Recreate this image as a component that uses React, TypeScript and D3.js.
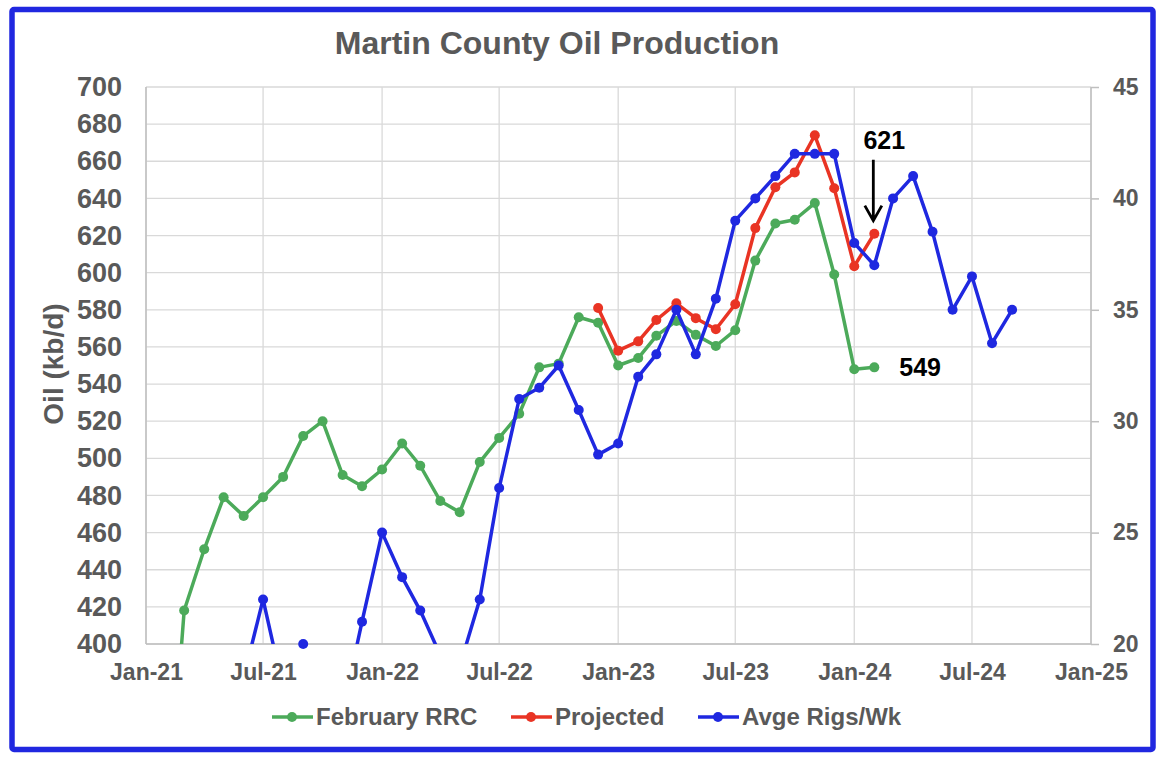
import React, { useEffect, useRef } from "react";
import * as d3 from "d3";

// February RRC production, kb/d
const rrcMonths = [
  "2021-02", "2021-03", "2021-04", "2021-05", "2021-06", "2021-07", "2021-08", "2021-09", "2021-10", "2021-11", "2021-12",
  "2022-01", "2022-02", "2022-03", "2022-04", "2022-05", "2022-06", "2022-07", "2022-08", "2022-09", "2022-10", "2022-11", "2022-12",
  "2023-01", "2023-02", "2023-03", "2023-04", "2023-05", "2023-06", "2023-07", "2023-08", "2023-09", "2023-10", "2023-11", "2023-12",
  "2024-01", "2024-02",
];
const rrcValues = [
  290, 418, 451, 479, 469, 479, 490, 512, 520, 491, 485,
  494, 508, 496, 477, 471, 498, 511, 524, 549, 551, 576, 573,
  550, 554, 566, 574, 566.5, 560.5, 569, 606.5, 626.5, 628.5, 637.5, 599,
  548, 549,
];

// Projected production, kb/d
const projMonths = [
  "2022-12", "2023-01", "2023-02", "2023-03", "2023-04", "2023-05", "2023-06", "2023-07",
  "2023-08", "2023-09", "2023-10", "2023-11", "2023-12", "2024-01", "2024-02",
];
const projValues = [581, 558, 563, 574.5, 583.5, 575.5, 569.5, 583, 624, 646, 654, 674, 645.5, 603.5, 621];

// Average rigs per week (right axis)
const rigMonths = [
  "2021-06", "2021-07", "2021-08", "2021-09", "2021-10", "2021-11", "2021-12",
  "2022-01", "2022-02", "2022-03", "2022-04", "2022-05", "2022-06", "2022-07", "2022-08", "2022-09", "2022-10", "2022-11", "2022-12",
  "2023-01", "2023-02", "2023-03", "2023-04", "2023-05", "2023-06", "2023-07", "2023-08", "2023-09", "2023-10", "2023-11", "2023-12",
  "2024-01", "2024-02", "2024-03", "2024-04", "2024-05", "2024-06", "2024-07", "2024-08", "2024-09",
];
const rigValues = [
  18.5, 22, 18, 20, 18, 17, 21,
  25, 23, 21.5, 19.5, 19, 22, 27, 31, 31.5, 32.5, 30.5, 28.5,
  29, 32, 33, 35, 33, 35.5, 39, 40, 41, 42, 42, 42,
  38, 37, 40, 41, 38.5, 35, 36.5, 33.5, 35,
];

const leftTicks = [400, 420, 440, 460, 480, 500, 520, 540, 560, 580, 600, 620, 640, 660, 680, 700];
const rightTicks = [20, 25, 30, 35, 40, 45];
const xTickLabels = ["Jan-21", "Jul-21", "Jan-22", "Jul-22", "Jan-23", "Jul-23", "Jan-24", "Jul-24", "Jan-25"];

const seriesNames = ["February RRC", "Projected", "Avge Rigs/Wk"];
const colors = ["#4caa5a", "#e93424", "#1f28e0"];

const FONT = "'Liberation Sans', Arial, Helvetica, sans-serif";
const GREY = "#595959";

const App: React.FC = () => {
  const svgRef = useRef<SVGSVGElement | null>(null);

  useEffect(() => {
    if (!svgRef.current) return;
    const svg = d3.select(svgRef.current);
    svg.selectAll("*").remove();

    const width = 1172;
    const height = 766;
    const left = 146;
    const right = 1091;
    const top = 87;
    const bottom = 644;

    svg.attr("width", width).attr("height", height);

    const parse = d3.timeParse("%Y-%m");
    const fmt = d3.timeFormat("%b-%y");

    const x = d3
      .scaleTime()
      .domain([new Date(2021, 0, 1), new Date(2025, 0, 1)])
      .range([left, right]);
    const yL = d3.scaleLinear().domain([400, 700]).range([bottom, top]);
    const yR = d3.scaleLinear().domain([20, 45]).range([bottom, top]);

    // outer frame
    svg
      .append("rect")
      .attr("x", 12)
      .attr("y", 9.5)
      .attr("width", 1141)
      .attr("height", 740)
      .attr("rx", 2)
      .attr("fill", "#fff")
      .attr("stroke", "#2027e0")
      .attr("stroke-width", 5.5);

    // title
    svg
      .append("text")
      .attr("x", 557)
      .attr("y", 54)
      .attr("text-anchor", "middle")
      .attr("font-family", FONT)
      .attr("font-weight", "bold")
      .attr("font-size", 32)
      .attr("fill", GREY)
      .text("Martin County Oil Production");

    // grid
    const xTicks = xTickLabels.map((s) => d3.timeParse("%b-%y")(s)!);
    svg
      .append("g")
      .selectAll("line")
      .data(leftTicks)
      .enter()
      .append("line")
      .attr("x1", left)
      .attr("x2", right)
      .attr("y1", (d) => yL(d))
      .attr("y2", (d) => yL(d))
      .attr("stroke", "#d9d9d9")
      .attr("stroke-width", 1.3);
    svg
      .append("g")
      .selectAll("line")
      .data(xTicks)
      .enter()
      .append("line")
      .attr("x1", (d) => x(d))
      .attr("x2", (d) => x(d))
      .attr("y1", top)
      .attr("y2", bottom)
      .attr("stroke", "#d9d9d9")
      .attr("stroke-width", 1.3);

    // axes lines
    svg.append("line").attr("x1", left).attr("x2", left).attr("y1", top).attr("y2", bottom).attr("stroke", "#bfbfbf").attr("stroke-width", 1.5);
    svg.append("line").attr("x1", right).attr("x2", right).attr("y1", top).attr("y2", bottom).attr("stroke", "#bfbfbf").attr("stroke-width", 1.5);
    svg.append("line").attr("x1", left).attr("x2", right).attr("y1", bottom).attr("y2", bottom).attr("stroke", "#bfbfbf").attr("stroke-width", 1.5);

    // left axis labels
    const gL = svg
      .append("g")
      .attr("transform", `translate(${left},0)`)
      .call(d3.axisLeft(yL).tickValues(leftTicks).tickSize(0).tickPadding(24).tickFormat(d3.format("d")));
    gL.select(".domain").remove();
    gL.selectAll("text")
      .attr("font-family", FONT)
      .attr("font-weight", "bold")
      .attr("font-size", 27)
      .attr("fill", GREY);

    // right axis labels
    const gR = svg
      .append("g")
      .attr("transform", `translate(${right},0)`)
      .call(d3.axisRight(yR).tickValues(rightTicks).tickSize(8).tickPadding(14).tickFormat(d3.format("d")));
    gR.select(".domain").remove();
    gR.selectAll("line").attr("stroke", "#bfbfbf").attr("stroke-width", 1.5);
    gR.selectAll("text")
      .attr("font-family", FONT)
      .attr("font-weight", "bold")
      .attr("font-size", 23)
      .attr("fill", GREY);

    // bottom axis labels
    const gB = svg
      .append("g")
      .attr("transform", `translate(0,${bottom})`)
      .call(d3.axisBottom(x).tickValues(xTicks).tickSize(0).tickPadding(20).tickFormat((d) => fmt(d as Date)));
    gB.select(".domain").remove();
    gB.selectAll("text")
      .attr("font-family", FONT)
      .attr("font-weight", "bold")
      .attr("font-size", 23)
      .attr("fill", GREY);

    // y axis title
    svg
      .append("text")
      .attr("transform", "translate(63,364) rotate(-90)")
      .attr("text-anchor", "middle")
      .attr("font-family", FONT)
      .attr("font-weight", "bold")
      .attr("font-size", 28)
      .attr("fill", GREY)
      .text("Oil (kb/d)");

    // clip
    svg
      .append("clipPath")
      .attr("id", "plot-clip")
      .append("rect")
      .attr("x", left)
      .attr("y", top)
      .attr("width", right - left)
      .attr("height", bottom - top);

    type Pt = { date: Date; value: number };
    const build = (months: string[], values: number[]): Pt[] =>
      months.map((m, i) => ({ date: parse(m)!, value: values[i] }));

    const series = [
      { pts: build(rrcMonths, rrcValues), y: yL, min: 400, max: 700, color: colors[0] },
      { pts: build(projMonths, projValues), y: yL, min: 400, max: 700, color: colors[1] },
      { pts: build(rigMonths, rigValues), y: yR, min: 20, max: 45, color: colors[2] },
    ];

    series.forEach((s) => {
      const line = d3
        .line<Pt>()
        .x((d) => x(d.date))
        .y((d) => s.y(d.value));
      svg
        .append("path")
        .datum(s.pts)
        .attr("clip-path", "url(#plot-clip)")
        .attr("d", line)
        .attr("fill", "none")
        .attr("stroke", s.color)
        .attr("stroke-width", 3.5)
        .attr("stroke-linejoin", "round");
      svg
        .append("g")
        .selectAll("circle")
        .data(s.pts.filter((d) => d.value >= s.min && d.value <= s.max))
        .enter()
        .append("circle")
        .attr("cx", (d) => x(d.date))
        .attr("cy", (d) => s.y(d.value))
        .attr("r", 5)
        .attr("fill", s.color);
    });

    // annotations
    const projLast = series[1].pts[series[1].pts.length - 1];
    const ax = x(projLast.date);
    const ay = yL(projLast.value);
    svg
      .append("text")
      .attr("x", ax + 10)
      .attr("y", ay - 85)
      .attr("text-anchor", "middle")
      .attr("font-family", FONT)
      .attr("font-weight", "bold")
      .attr("font-size", 25)
      .attr("fill", "#000")
      .text(d3.format("d")(projLast.value));
    svg
      .append("path")
      .attr("d", `M${ax - 1},${ay - 74} L${ax - 1},${ay - 13} M${ax - 9.5},${ay - 28} L${ax - 1},${ay - 13} L${ax + 7.5},${ay - 28}`)
      .attr("fill", "none")
      .attr("stroke", "#000")
      .attr("stroke-width", 2.8);

    const rrcLast = series[0].pts[series[0].pts.length - 1];
    svg
      .append("text")
      .attr("x", x(rrcLast.date) + 25)
      .attr("y", yL(rrcLast.value) + 8.5)
      .attr("font-family", FONT)
      .attr("font-weight", "bold")
      .attr("font-size", 25)
      .attr("fill", "#000")
      .text(d3.format("d")(rrcLast.value));

    // legend
    const legendX = [272, 511, 698];
    const legendY = 717;
    const lg = svg.append("g");
    seriesNames.forEach((name, i) => {
      const lx = legendX[i];
      lg.append("line")
        .attr("x1", lx)
        .attr("x2", lx + 41)
        .attr("y1", legendY)
        .attr("y2", legendY)
        .attr("stroke", colors[i])
        .attr("stroke-width", 3.5);
      lg.append("circle").attr("cx", lx + 20).attr("cy", legendY).attr("r", 5).attr("fill", colors[i]);
      lg.append("text")
        .attr("x", lx + 44)
        .attr("y", legendY)
        .attr("dy", "0.35em")
        .attr("font-family", FONT)
        .attr("font-weight", "bold")
        .attr("font-size", 24)
        .attr("fill", GREY)
        .text(name);
    });
  }, []);

  return (
    <svg ref={svgRef} style={{ position: "absolute", left: 0, top: 0, display: "block" }}></svg>
  );
};

export default App;
